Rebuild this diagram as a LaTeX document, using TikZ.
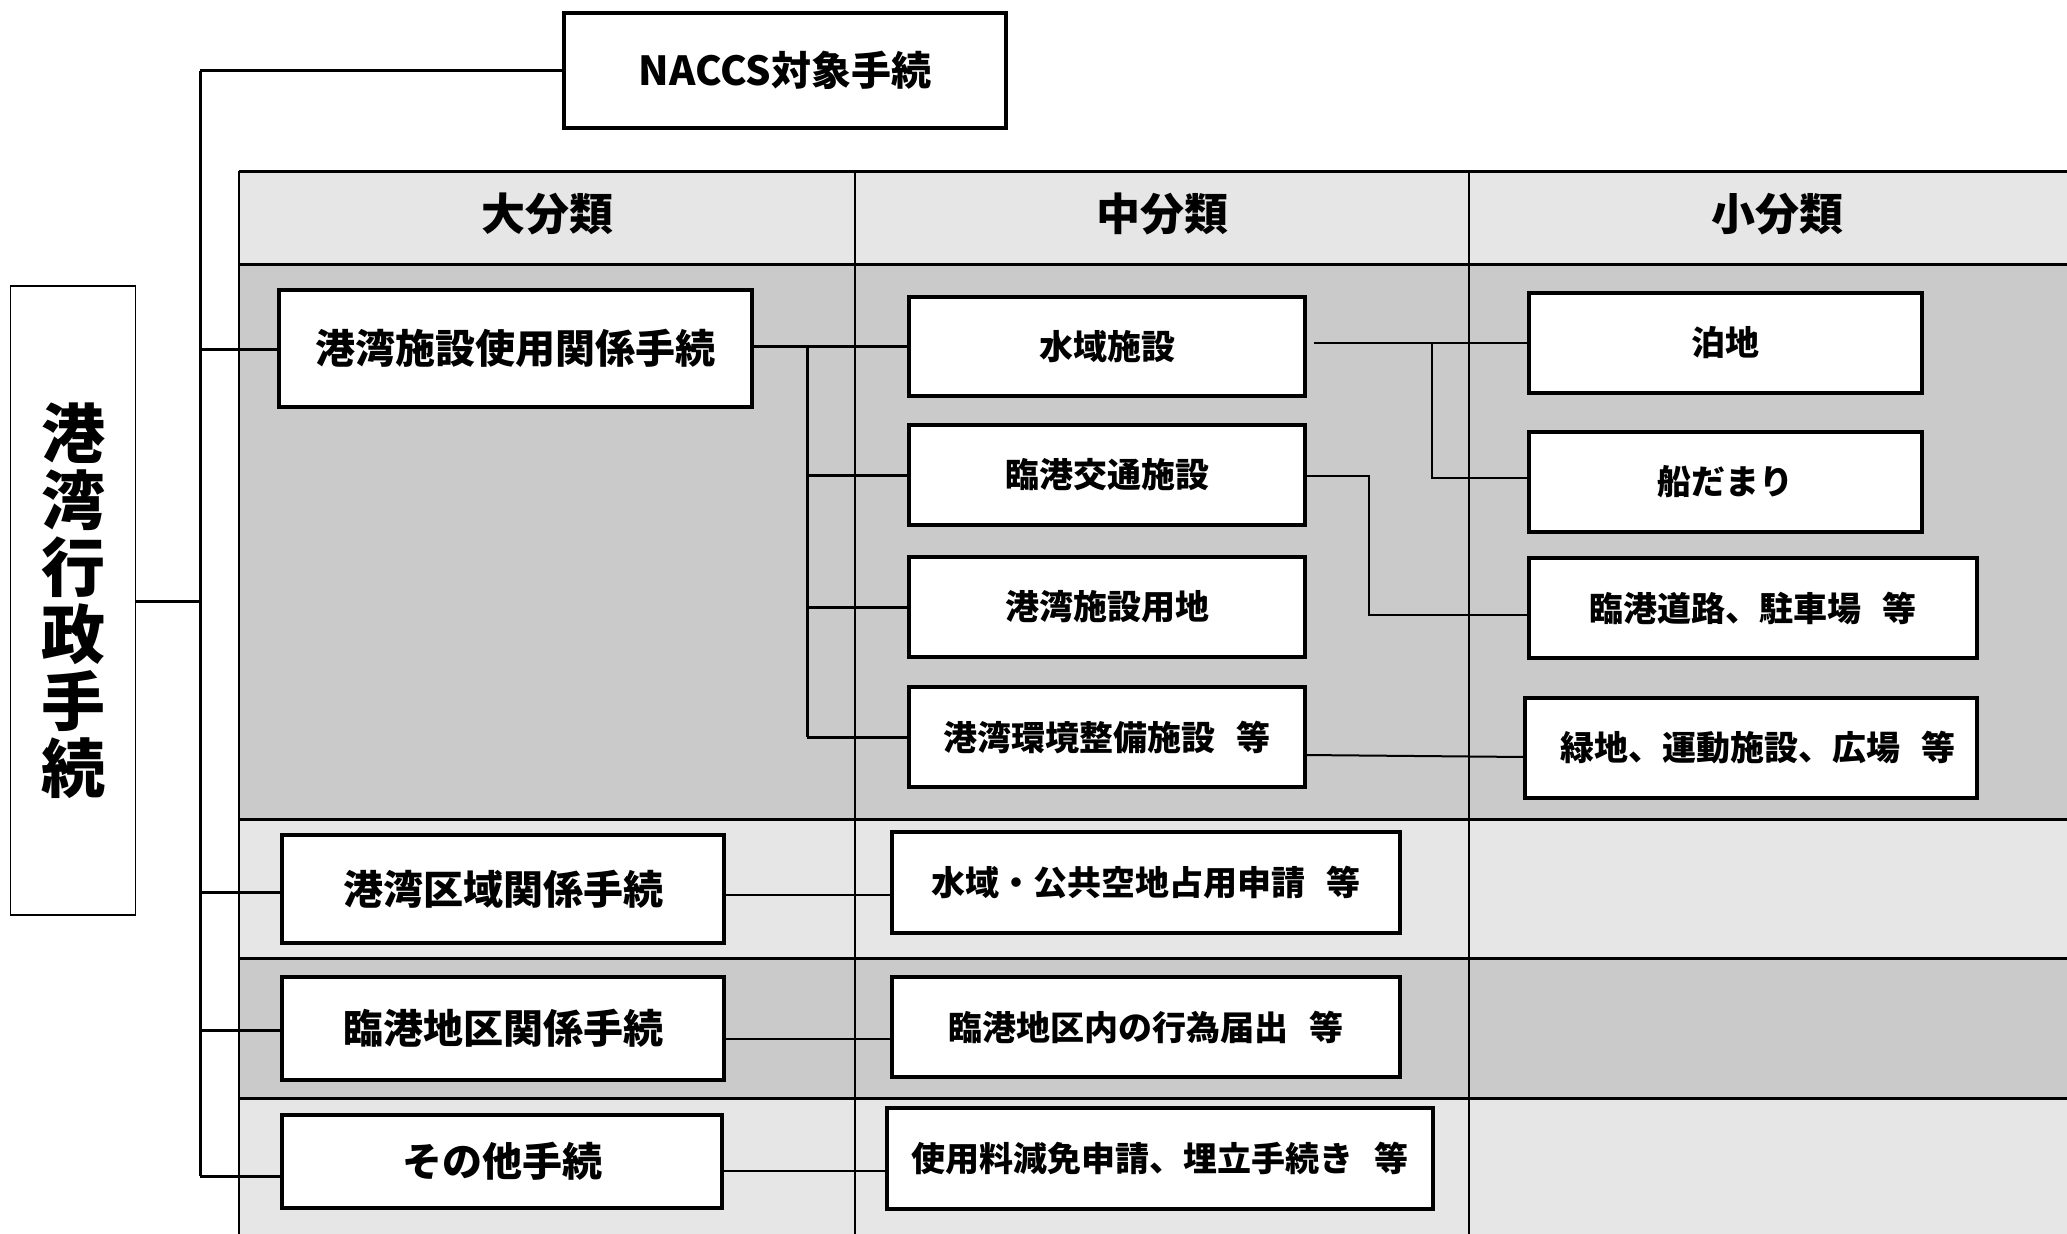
\documentclass[tikz,border=0pt]{standalone}
\usepackage{fontspec}
\newfontfamily\jpb{Noto Sans CJK JP Black}
\definecolor{hdrgray}{HTML}{E6E6E6}
\definecolor{darkrow}{HTML}{CACACA}
\definecolor{lightrow}{HTML}{E6E6E6}
\tikzset{
  bx/.style={draw, line width=4.5pt, fill=white, inner sep=0pt, outer sep=0pt,
    font=\jpb\fontsize{34}{40}\selectfont},
  bigbx/.style={bx, font=\jpb\fontsize{40}{48}\selectfont},
  hdrtxt/.style={inner sep=0pt, font=\jpb\fontsize{44}{50}\selectfont},
  tline/.style={line width=3pt},
  vline/.style={line width=2pt},
  trunkline/.style={line width=3pt},
  conn/.style={line width=2pt}
}
\begin{document}
\begin{tikzpicture}[x=1pt,y=-1pt]
\useasboundingbox (0,0) rectangle (2067,1234);
\begin{scope}
\clip (0,0) rectangle (2067,1234);
% table backgrounds
\fill[hdrgray] (239,171) rectangle (2090,264);
\fill[darkrow] (239,264) rectangle (2090,819);
\fill[lightrow] (239,819) rectangle (2090,958);
\fill[darkrow] (239,958) rectangle (2090,1098);
\fill[lightrow] (239,1098) rectangle (2090,1240);
% table lines
\draw[tline] (2090,171) -- (239,171);
\draw[vline] (239,171) -- (239,1240);
\draw[tline] (239,264) -- (2090,264);
\draw[tline] (239,819) -- (2090,819);
\draw[tline] (239,958) -- (2090,958);
\draw[tline] (239,1098) -- (2090,1098);
\draw[vline] (855,171) -- (855,1240);
\draw[vline] (1469,171) -- (1469,1240);
% headers
\node[hdrtxt] (h1) at (547,214) {大分類};
\node[hdrtxt] (h2) at (1162,214) {中分類};
\node[hdrtxt] (h3) at (1777,214) {小分類};
\end{scope}

% coordinates for connector routing
\coordinate (ttop) at (200,70.5);
\coordinate (tbot) at (200,1176);
\coordinate (busA) at (807,346);
\coordinate (busAb) at (807,737);
\coordinate (busB) at (1432,343);
\coordinate (busBb) at (1432,478);
\coordinate (busC) at (1369,476);
\coordinate (busCb) at (1369,615);
\coordinate (b4out) at (1305,755);
\coordinate (a2out) at (724,895);
\coordinate (a3out) at (724,1039);
\coordinate (a4out) at (722,1171);

% nodes
\node[bx, line width=1.5pt, minimum width=125pt, minimum height=629pt,
  align=center, font=\jpb\fontsize{64}{67}\selectfont] (root) at (73,600.5)
  {港\\湾\\行\\政\\手\\続};
\node[bigbx, minimum width=442pt, minimum height=115pt] (naccs) at (785,70.5) {NACCS対象手続};

\node[bigbx, minimum width=473pt, minimum height=117pt] (A1) at (515.5,348.5) {港湾施設使用関係手続};
\node[bigbx, minimum width=442pt, minimum height=108pt] (A2) at (503,889) {港湾区域関係手続};
\node[bigbx, minimum width=442pt, minimum height=103pt] (A3) at (503,1028.5) {臨港地区関係手続};
\node[bigbx, minimum width=440pt, minimum height=93pt] (A4) at (502,1161.5) {その他手続};

\node[bx, minimum width=396pt, minimum height=99pt] (B1) at (1107,346.5) {水域施設};
\node[bx, minimum width=396pt, minimum height=100pt] (B2) at (1107,475) {臨港交通施設};
\node[bx, minimum width=396pt, minimum height=100pt] (B3) at (1107,607) {港湾施設用地};
\node[bx, minimum width=396pt, minimum height=100pt] (B4) at (1107,737) {港湾環境整備施設\hspace{0.6em}等};
\node[bx, minimum width=508pt, minimum height=101pt] (B5) at (1146,882.5) {水域・公共空地占用申請\hspace{0.6em}等};
\node[bx, minimum width=508pt, minimum height=100pt] (B6) at (1146,1027) {臨港地区内の行為届出\hspace{0.6em}等};
\node[bx, minimum width=546pt, minimum height=101pt] (B7) at (1160,1158.5) {使用料減免申請、埋立手続き\hspace{0.6em}等};

\node[bx, minimum width=393pt, minimum height=100pt] (C1) at (1725.5,343) {泊地};
\node[bx, minimum width=393pt, minimum height=100pt] (C2) at (1725.5,482) {船だまり};
\node[bx, minimum width=448pt, minimum height=100pt] (C3) at (1753,608) {臨港道路、駐車場\hspace{0.6em}等};
\node[bx, minimum width=452pt, minimum height=100pt] (C4) at (1751,748) {\hspace{0.4em}緑地、運動施設、広場\hspace{0.6em}等};

% connectors
\draw[trunkline] (root.east |- 0,601) -- (200,601);
\draw[trunkline] (ttop) -- (tbot);
\draw[trunkline] (ttop) -- (naccs.west);
\draw[trunkline] (200,349) -- (A1.west |- 0,349);
\draw[trunkline] (200,892) -- (A2.west |- 0,892);
\draw[trunkline] (200,1030) -- (A3.west |- 0,1030);
\draw[trunkline] (tbot) -- (A4.west |- tbot);

\draw[trunkline] (A1.east |- busA) -- (B1.west |- busA);
\draw[trunkline] (busA) -- (busAb);
\draw[trunkline] (busA |- B2.west) -- (B2.west);
\draw[trunkline] (busA |- B3.west) -- (B3.west);
\draw[trunkline] (busAb) -- (B4.west);

\draw[conn] ([xshift=9pt]B1.east |- busB) -- (C1.west);
\draw[conn] (busB) -- (busBb) -- (C2.west |- busBb);
\draw[conn] (B2.east |- busC) -- (busC) -- (busCb) -- (C3.west |- busCb);
\draw[conn] (b4out) -- (C4.west |- 0,757);

\draw[conn] (a2out) -- (B5.west |- 0,895);
\draw[conn] (a3out) -- (B6.west |- 0,1039);
\draw[conn] (a4out) -- (B7.west |- 0,1171);
\end{tikzpicture}
\end{document}
